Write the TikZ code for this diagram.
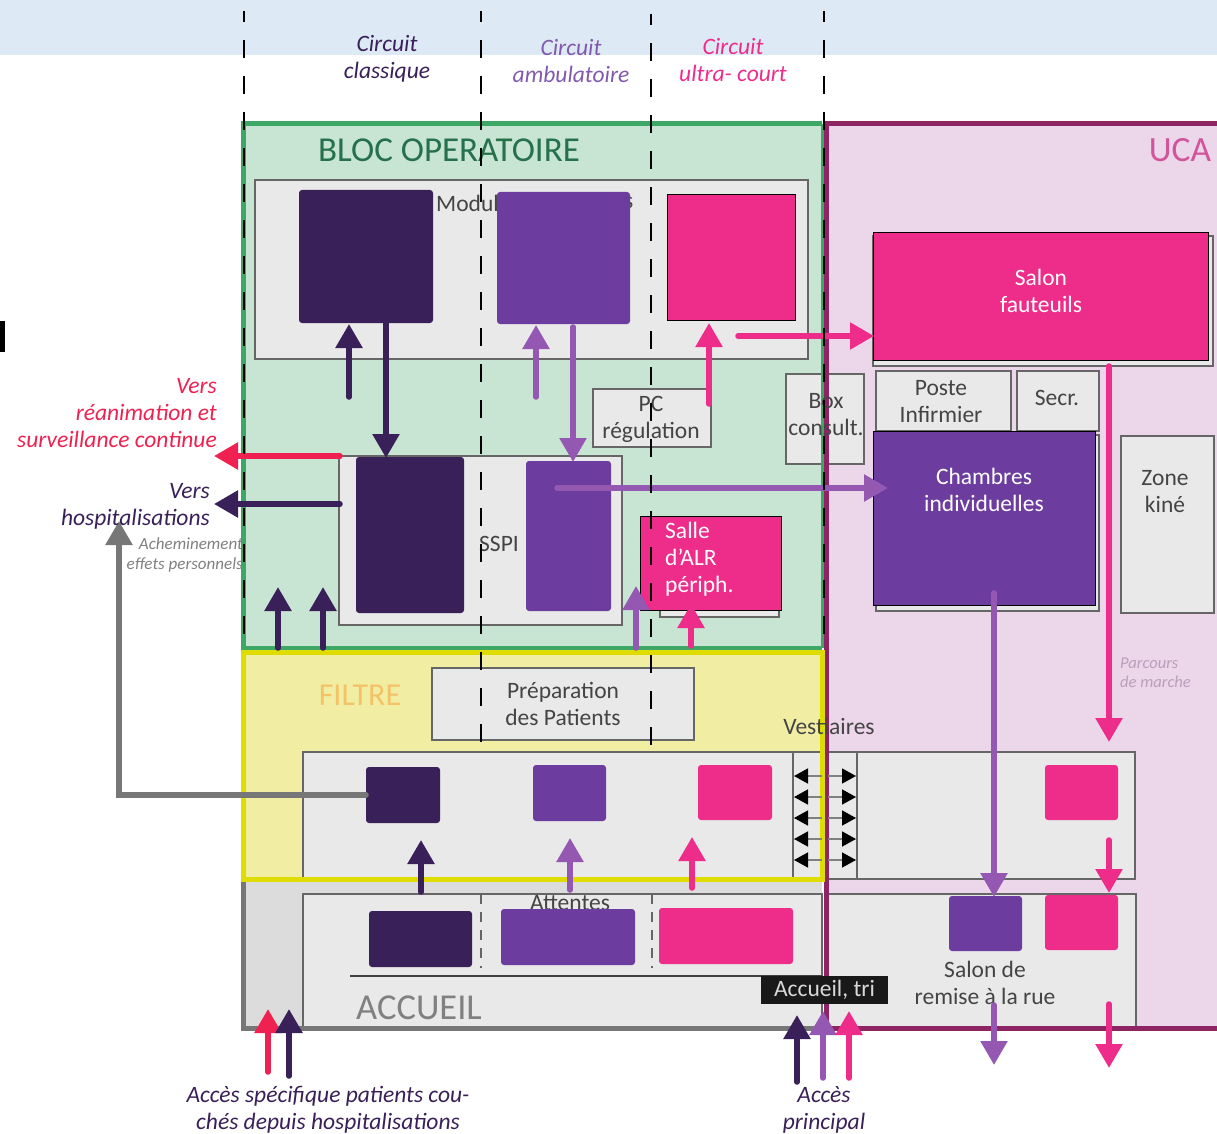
\documentclass[tikz,border=0pt]{standalone}
\usepackage{fontspec}
\setmainfont{Carlito}
\usetikzlibrary{arrows.meta,positioning}

\definecolor{bandblue}{HTML}{DDE9F5}
\definecolor{blocfill}{HTML}{C8E5D3}
\definecolor{blocline}{HTML}{3DA866}
\definecolor{blocword}{HTML}{26704C}
\definecolor{ucafill}{HTML}{ECD6EA}
\definecolor{ucaline}{HTML}{8E2464}
\definecolor{ucaword}{HTML}{D0559A}
\definecolor{filtrefill}{HTML}{F1EEA4}
\definecolor{filtreline}{HTML}{DEDC00}
\definecolor{filtreword}{HTML}{F4C267}
\definecolor{accfill}{HTML}{DCDCDC}
\definecolor{accline}{HTML}{777777}
\definecolor{roomfill}{HTML}{E9E9E9}
\definecolor{roomline}{HTML}{666666}
\definecolor{roomword}{HTML}{444444}
\definecolor{classic}{HTML}{3A2058}
\definecolor{ambu}{HTML}{6C3D9F}
\definecolor{ambuflow}{HTML}{9558B2}
\definecolor{ultra}{HTML}{EE2C8A}
\definecolor{rea}{HTML}{EF2150}
\definecolor{marche}{HTML}{B9A0BB}

\tikzset{
  area/.style={anchor=north west,inner sep=0pt,outer sep=0pt},
  room/.style={area,fill=roomfill,draw=roomline,line width=1.5pt,text=roomword,align=center,
    font=\fontsize{23.5}{27}\selectfont},
  block/.style={area,rounded corners=3pt},
  framed/.style={area,draw=black,line width=1pt},
  flow/.style={-{Triangle[length=24pt,width=26pt]},line width=5.5pt,line cap=round},
  word/.style={align=center,inner sep=0pt,font=\fontsize{23.5}{27}\selectfont\itshape},
  roomword/.style={inner sep=0pt,text=roomword,align=center,font=\fontsize{23.5}{27}\selectfont},
  whiteword/.style={inner sep=0pt,text=white,font=\fontsize{23.5}{27}\selectfont},
  axis/.style={draw=black,line width=1.7pt,dash pattern=on 18pt off 18pt,dash phase=7pt},
  doorarrow/.style={-{Triangle[length=14pt,width=15pt,black]},draw=black!50,line width=1.5pt}
}

\begin{document}
\begin{tikzpicture}[x=1pt,y=-1pt]
  \useasboundingbox (0,0) rectangle (1217,1134);

  % zones
  \node[area,fill=bandblue,minimum width=1217,minimum height=55] (Band) at (0,0) {};
  \node[area,fill=black,minimum width=5,minimum height=31] (Mark) at (0,321) {};
  \node[area,fill=ucafill,minimum width=391,minimum height=904] (Uca) at (826,124) {};
  \node[area,fill=blocfill,minimum width=579,minimum height=524] (Bloc) at (243,124) {};
  \node[area,fill=filtrefill,minimum width=579,minimum height=227] (Filtre) at (243,652) {};
  \node[area,fill=accfill,minimum width=579,minimum height=149] (Accueil) at (243,879) {};

  % rooms
  \node[room,minimum width=553,minimum height=179] (Modules) at (255,180) {};
  \node[room,minimum width=118,minimum height=58] (Regul) at (593,389) {};
  \node[room,minimum width=283,minimum height=169] (Sspi) at (339,456) {};
  \node[room,minimum width=119,minimum height=30] (AlrBack) at (660,587) {};
  \node[room,minimum width=78,minimum height=90] (Consult) at (786,374) {};
  \node[room,minimum width=340,minimum height=130] (SalonBack) at (873,236) {};
  \node[room,minimum width=135,minimum height=60] (Poste) at (876,371) {};
  \node[room,minimum width=82,minimum height=60] (Secr) at (1017,371) {};
  \node[room,minimum width=223,minimum height=176] (ChambBack) at (876,435) {};
  \node[room,minimum width=93,minimum height=177] (Kine) at (1121,436) {};
  \node[room,minimum width=262,minimum height=72] (Prepa) at (432,668) {Préparation\\des Patients};
  \node[room,minimum width=832,minimum height=127] (Vest) at (303,752) {};
  \node[room,minimum width=64,minimum height=127] (Door) at (793,752) {};
  \node[room,minimum width=519,minimum height=133] (AccRoom) at (303,894) {};
  \node[room,minimum width=308,minimum height=133] (RemRoom) at (828,894) {};

  % zone frames
  \draw[blocline,line width=5pt] (Bloc.north east) -- (Bloc.north west) -- (Bloc.south west) -- (Bloc.south east);
  \draw[ucaline,line width=5pt] (Uca.north east) -- (Uca.north west) -- (Uca.south west) -- (Uca.south east);
  \draw[blocline,line width=3pt] (Bloc.north east) -- (Bloc.south east);
  \draw[accline,line width=5pt] (Accueil.north west) -- (Accueil.south west) -- (Accueil.south east);
  \draw[filtreline,line width=5pt] (Filtre.north west) rectangle (Filtre.south east);

  % words of the rooms
  \node[roomword] (RegulWord) at (651,419) {PC\\régulation};
  \node[roomword] (ConsultWord) at (826,415) {Box\\consult.};
  \node[roomword] (PosteWord) at (941,402) {Poste\\Infirmier};
  \node[roomword] (SecrWord) at (1057,398) {Secr.};
  \node[roomword] (KineWord) at (1165,492) {Zone\\kiné};
  \node[roomword,anchor=west] (ModA) at (436,203) {Modul};
  \node[roomword,anchor=west] (ModB) at (624,203) {s};
  \node[roomword] (SspiWord) at (499,544) {SSPI};
  \node[roomword] (Attentes) at (570,903) {Attentes};
  \node[roomword] (Vestiaires) at (829,726) {Vestiaires};
  \node[roomword] (SalonRue) at (985,983) {Salon de\\remise à la rue};

  % blocks of the three circuits
  \node[block,fill=classic,minimum width=134,minimum height=133] (ModClassic) at (299,190) {};
  \node[block,fill=ambu,minimum width=133,minimum height=132] (ModAmbu) at (497,192) {};
  \node[framed,fill=ultra,minimum width=128,minimum height=126] (ModUltra) at (667,194) {};
  \node[block,fill=classic,minimum width=108,minimum height=156] (SspiClassic) at (356,457) {};
  \node[block,fill=ambu,minimum width=85,minimum height=150] (SspiAmbu) at (526,461) {};
  \node[framed,fill=ultra,minimum width=141,minimum height=94] (Alr) at (640,516) {};
  \node[framed,fill=ultra,minimum width=335,minimum height=128] (Salon) at (873,232) {};
  \node[framed,fill=ambu,minimum width=222,minimum height=174] (Chamb) at (873,431) {};
  \node[block,fill=classic,minimum width=74,minimum height=56] (VestClassic) at (366,767) {};
  \node[block,fill=ambu,minimum width=73,minimum height=56] (VestAmbu) at (533,765) {};
  \node[block,fill=ultra,minimum width=74,minimum height=55] (VestUltra) at (698,765) {};
  \node[block,fill=ultra,minimum width=73,minimum height=55] (VestUltraB) at (1045,765) {};
  \node[block,fill=classic,minimum width=103,minimum height=56] (AccClassic) at (369,911) {};
  \node[block,fill=ambu,minimum width=134,minimum height=56] (AccAmbu) at (501,909) {};
  \node[block,fill=ultra,minimum width=134,minimum height=56] (AccUltra) at (659,908) {};
  \node[block,fill=ambu,minimum width=73,minimum height=55] (RemAmbu) at (949,896) {};
  \node[block,fill=ultra,minimum width=73,minimum height=55] (RemUltra) at (1045,895) {};
  \node[whiteword,anchor=west,align=left] (AlrWord) at (665,559) {Salle\\d’ALR\\périph.};
  \node[whiteword,align=center] (ChambWord) at (984,490) {Chambres\\individuelles};
  \node[whiteword,align=center] (SalonWord) at (1041,291) {Salon\\fauteuils};

  % accueil details
  \coordinate (RuleA) at (350,976);
  \coordinate (RuleB) at (822,976);
  \draw[black!75,line width=1.5pt] (RuleA) -- (RuleB);
  \coordinate (WaitA) at (481,894);
  \coordinate (WaitB) at (481,968);
  \coordinate (WaitC) at (652,894);
  \coordinate (WaitD) at (652,968);
  \draw[roomline,line width=1.5pt,dash pattern=on 10pt off 8pt] (WaitA) -- (WaitB);
  \draw[roomline,line width=1.5pt,dash pattern=on 10pt off 8pt] (WaitC) -- (WaitD);
  \node[inner sep=0pt,text=black!50,font=\fontsize{36.5}{40}\selectfont] (AccWord) at (419,1008) {ACCUEIL};
  \node[area,fill=black!90,text=black!15,minimum width=127,minimum height=28,
    font=\fontsize{23.5}{27}\selectfont] (Tri) at (761,976) {Accueil, tri};

  % door arrows
  \foreach \y in {776,797,818,839,860} {
    \coordinate (DoorL) at (794,\y);
    \coordinate (DoorM) at (822,\y);
    \coordinate (DoorN) at (828,\y);
    \coordinate (DoorR) at (856,\y);
    \draw[doorarrow] (DoorM) -- (DoorL);
    \draw[doorarrow] (DoorN) -- (DoorR);
  }

  % free ends of the arrows
  \coordinate (a1) at (349,397); \coordinate (a2) at (349,324);
  \coordinate (b1) at (386,323); \coordinate (b2) at (386,458);
  \coordinate (c1) at (536,397); \coordinate (c2) at (536,325);
  \coordinate (d1) at (573,327); \coordinate (d2) at (573,462);
  \coordinate (e1) at (709,404); \coordinate (e2) at (709,323);
  \coordinate (f1) at (738,336); \coordinate (f2) at (874,336);
  \coordinate (g1) at (557,488); \coordinate (g2) at (888,488);
  \coordinate (h1) at (340,456); \coordinate (h2) at (214,456);
  \coordinate (i1) at (340,504); \coordinate (i2) at (214,504);
  \coordinate (j1) at (119,795); \coordinate (j2) at (119,521);
  \coordinate (k1) at (278,648); \coordinate (k2) at (278,587);
  \coordinate (l1) at (323,648); \coordinate (l2) at (323,587);
  \coordinate (m1) at (636,648); \coordinate (m2) at (636,586);
  \coordinate (n1) at (691,646); \coordinate (n2) at (691,604);
  \coordinate (o1) at (1109,366); \coordinate (o2) at (1109,742);
  \coordinate (p1) at (994,593); \coordinate (p2) at (994,897);
  \coordinate (q1) at (1109,840); \coordinate (q2) at (1109,893);
  \coordinate (r1) at (994,1005); \coordinate (r2) at (994,1065);
  \coordinate (s1) at (1109,1004); \coordinate (s2) at (1109,1068);
  \coordinate (t1) at (797,1082); \coordinate (t2) at (797,1015);
  \coordinate (u1) at (823,1078); \coordinate (u2) at (823,1011);
  \coordinate (v1) at (849,1078); \coordinate (v2) at (849,1011);
  \coordinate (w1) at (268,1072); \coordinate (w2) at (268,1009);
  \coordinate (x1) at (289,1076); \coordinate (x2) at (289,1009);
  \coordinate (y1) at (421,892); \coordinate (y2) at (421,840);
  \coordinate (z1) at (570,890); \coordinate (z2) at (570,838);
  \coordinate (aa1) at (692,888); \coordinate (aa2) at (692,837);

  \draw[flow,classic] (a1) -- (a2);
  \draw[flow,classic] (b1) -- (b2);
  \draw[flow,ambuflow] (c1) -- (c2);
  \draw[flow,ambuflow] (d1) -- (d2);
  \draw[flow,ultra] (e1) -- (e2);
  \draw[flow,ultra] (f1) -- (f2);
  \draw[flow,ambuflow] (g1) -- (g2);
  \draw[flow,rea] (h1) -- (h2);
  \draw[flow,classic] (i1) -- (i2);
  \draw[flow,accline] (VestClassic.west |- j1) -- (j1) -- (j2);
  \draw[flow,classic] (k1) -- (k2);
  \draw[flow,classic] (l1) -- (l2);
  \draw[flow,ambuflow] (m1) -- (m2);
  \draw[flow,ultra] (n1) -- (n2);
  \draw[flow,ultra] (o1) -- (o2);
  \draw[flow,ambuflow] (p1) -- (p2);
  \draw[flow,ultra] (q1) -- (q2);
  \draw[flow,ambuflow] (r1) -- (r2);
  \draw[flow,ultra] (s1) -- (s2);
  \draw[flow,classic] (t1) -- (t2);
  \draw[flow,ambuflow] (u1) -- (u2);
  \draw[flow,ultra] (v1) -- (v2);
  \draw[flow,rea] (w1) -- (w2);
  \draw[flow,classic] (x1) -- (x2);
  \draw[flow,classic] (y1) -- (y2);
  \draw[flow,ambuflow] (z1) -- (z2);
  \draw[flow,ultra] (aa1) -- (aa2);

  % zone titles
  \node[inner sep=0pt,text=blocword,font=\fontsize{35}{40}\selectfont] (BlocWord) at (449,150) {BLOC OPERATOIRE};
  \node[inner sep=0pt,text=ucaword,font=\fontsize{35.5}{40}\selectfont] (UcaWord) at (1180,150) {UCA};
  \node[inner sep=0pt,text=filtreword,font=\fontsize{32}{38}\selectfont] (FiltreWord) at (360,695) {FILTRE};

  % circuits and outside labels
  \node[word,text=classic] (Classique) at (387,59) {Circuit\\classique};
  \node[word,text=ambu!85!white] (Ambulatoire) at (571,61) {Circuit\\ambulatoire};
  \node[word,text=ultra] (UltraCourt) at (733,60) {Circuit\\ultra- court};
  \node[word,text=rea,anchor=east,align=right] (Rea) at (217,413) {Vers\\réanimation et\\surveillance continue};
  \node[word,text=classic,anchor=east,align=right] (Hospit) at (210,506) {Vers\\hospitalisations};
  \node[word,text=black!50,anchor=east,align=right,font=\fontsize{17}{20}\selectfont\itshape] (Effets) at (243,555) {Acheminement\\effets personnels};
  \node[word,text=marche,anchor=west,align=left,font=\fontsize{16.5}{19}\selectfont\itshape] (Parcours) at (1120,673) {Parcours\\de marche};
  \node[word,text=classic] (AccesA) at (328,1110) {Accès spécifique patients cou-\\chés depuis hospitalisations};
  \node[word,text=classic] (AccesB) at (824,1110) {Accès\\principal};

  % circuit axes
  \coordinate (AxisA) at (244,11);
  \coordinate (AxisB) at (244,650);
  \coordinate (AxisC) at (481,11);
  \coordinate (AxisD) at (481,745);
  \coordinate (AxisE) at (651,14);
  \coordinate (AxisF) at (651,745);
  \coordinate (AxisG) at (824,11);
  \coordinate (AxisH) at (824,650);
  \draw[axis] (AxisA) -- (AxisB);
  \draw[axis] (AxisC) -- (AxisD);
  \draw[axis] (AxisE) -- (AxisF);
  \draw[axis] (AxisG) -- (AxisH);
\end{tikzpicture}
\end{document}
